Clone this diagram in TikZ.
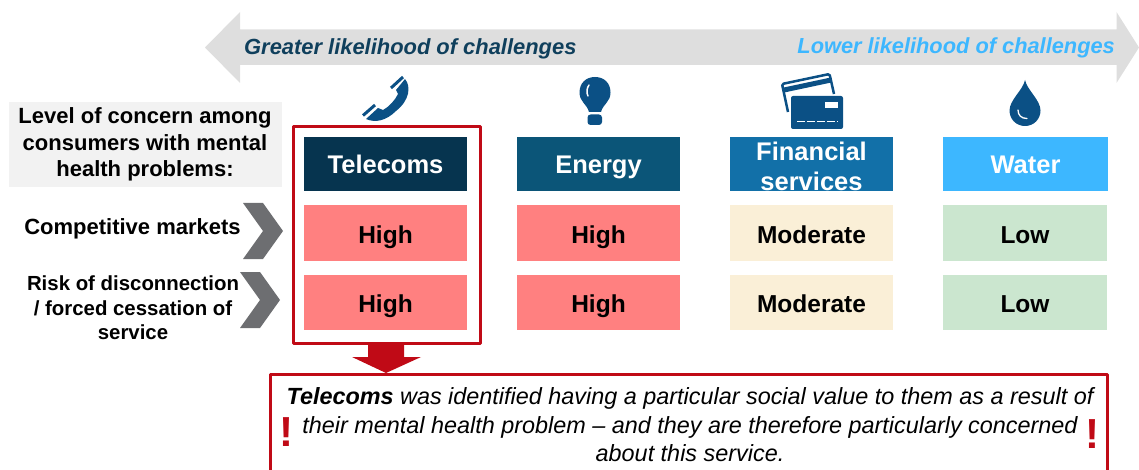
\documentclass[tikz,border=0pt]{standalone}
\usepackage{fontspec}
\setmainfont{Liberation Sans}
\definecolor{cTel}{HTML}{06344F}
\definecolor{cEne}{HTML}{0B5578}
\definecolor{cFin}{HTML}{1270A8}
\definecolor{cWat}{HTML}{3DB7FF}
\definecolor{cHigh}{HTML}{FF8080}
\definecolor{cMod}{HTML}{FAEFD7}
\definecolor{cLow}{HTML}{CBE6CF}
\definecolor{cRed}{HTML}{C00A16}
\definecolor{cBand}{HTML}{DEDEDE}
\definecolor{cChev}{HTML}{6D6E71}
\definecolor{cIcon}{HTML}{0B5085}
\definecolor{cGreat}{HTML}{0F3F5C}
\newcommand{\fs}[2]{\fontsize{#1}{#2}\selectfont}
\tikzset{
  x=1pt,y=-1pt,
  hdr/.style={minimum width=163pt,minimum height=54pt,inner sep=0pt,text=white,font=\bfseries\fs{25.5}{30},align=center},
  hdrone/.style={hdr,text height=25pt,text depth=5pt},
  cell/.style={minimum width=163pt,minimum height=55pt,inner sep=0pt,text=black,font=\bfseries\fs{24.5}{29},text height=26pt,text depth=5pt},
  lbl/.style={inner sep=0pt,align=center,text=black,font=\bfseries\fs{20.4}{24.5}},
  frameline/.style={draw=cRed,line width=3pt,line join=round},
  chev/.style={fill=cChev},
  ico/.style={fill=cIcon},
  icocut/.style={draw=white,line cap=round},
}
\begin{document}
\begin{tikzpicture}
\useasboundingbox (0,0) rectangle (1139,470);
% band arrow
\fill[cBand] (205,47.5) -- (240,12) -- (240,29.5) -- (1116.5,29.5) -- (1116.5,12) -- (1139,47.5) -- (1116.5,83) -- (1116.5,65) -- (240,65) -- (240,83) -- cycle;
\node[inner sep=0pt,anchor=west,text=cGreat,font=\bfseries\itshape\fs{21.9}{26}] (greater) at (244,48.5) {Greater likelihood of challenges};
\node[inner sep=0pt,anchor=east,text=cWat,font=\bfseries\itshape\fs{21.8}{26}] (lower) at (1115,47.5) {Lower likelihood of challenges};
% label box
\node[minimum width=273pt,minimum height=85pt,inner sep=0pt,fill=black!5] (levelbg) at (145.5,144.5) {};
\node[lbl,font=\bfseries\fs{22}{26.5}] (level) at (145,144.5) {Level of concern among\\consumers with mental\\health problems:};
% headers
\node[hdrone,fill=cTel] (telecoms) at (385.5,164) {Telecoms};
\node[hdrone,fill=cEne] (energy) at (598.5,164) {Energy};
\node[hdr,fill=cFin] (finbg) at (811.5,164) {};
\node[hdr,minimum height=0pt] (fin) at (811.5,166) {Financial\\services};
\node[hdrone,fill=cWat,minimum width=165pt] (water) at (1025.5,164) {Water};
% rows
\node[cell,fill=cHigh] (h11) at (385.5,233) {High};
\node[cell,fill=cHigh] (h12) at (598.5,233) {High};
\node[cell,fill=cMod] (m13) at (811.5,233) {Moderate};
\node[cell,fill=cLow,minimum width=164pt] (l14) at (1025,233) {Low};
\node[cell,fill=cHigh] (h21) at (385.5,302) {High};
\node[cell,fill=cHigh] (h22) at (598.5,302) {High};
\node[cell,fill=cMod] (m23) at (811.5,302) {Moderate};
\node[cell,fill=cLow,minimum width=164pt] (l24) at (1025,302) {Low};
% row labels
\node[lbl,font=\bfseries\fs{22}{24.5}] (comp) at (132.5,228.5) {Competitive markets};
\node[lbl] (risk) at (133,308) {Risk of disconnection\\/ forced cessation of\\service};
% chevrons
\fill[chev] (243,203) -- (263,203) -- (283,231) -- (263,259) -- (243,259) -- (263,231) -- cycle;
\fill[chev] (240,272) -- (260,272) -- (280,300) -- (260,328) -- (240,328) -- (260,300) -- cycle;
% red frame
\draw[frameline] (293.5,126.5) rectangle (480,343);
% red arrow
\fill[cRed] (368,344) -- (404,344) -- (404,357) -- (421,357) -- (386,373) -- (352,357) -- (368,357) -- cycle;
% bottom box
\draw[frameline] (270.5,480) -- (270.5,374.5) -- (1107.5,374.5) -- (1107.5,480);
\node[inner sep=0pt,align=center,text=black,font=\itshape\fs{23.4}{28.5}] (msg) at (690,425) {\textbf{Telecoms} was identified having a particular social value to them as a result of\\their mental health problem – and they are therefore particularly concerned\\about this service.};
\node[inner sep=0pt,text=cRed,font=\bfseries\fs{42}{42}] (exl) at (286,432) {!};
\node[inner sep=0pt,text=cRed,font=\bfseries\fs{42}{42}] (exr) at (1092,434.5) {!};
% phone icon
\draw[cIcon,line width=3pt] (391,88) -- (403,77);
\draw[cIcon,line width=3pt] (363,115.5) -- (375,105);
\fill[ico] (396,90) -- (405,79) .. controls (411,86) and (410,100) .. (396,111) .. controls (386,121) and (375,123) .. (366,119) -- (378,108) -- (383,110) .. controls (390,106) and (395,100) .. (398,94) -- cycle;
% bulb icon
\fill[ico] (589,112) .. controls (587,104) and (579.5,102) .. (579.5,92.5) .. controls (579.5,83) and (586,77) .. (595,77) .. controls (604,77) and (610.5,83) .. (610.5,92.5) .. controls (610.5,102) and (603,104) .. (601,112) -- cycle;
\fill[ico,rounded corners=3pt] (587.5,114.5) rectangle (602,125);
\draw[icocut,line width=1.5pt] (588,96) .. controls (586,92) and (587,88) .. (589,85);
% card icon
\draw[cIcon,line width=2.5pt,line join=round,rounded corners=1.5pt] (788,112) -- (782,84) -- (829.5,74) -- (834,94);
\draw[cIcon,line width=5pt] (784,90) -- (831,80);
\fill[ico,rounded corners=2pt] (791,96) rectangle (843,129);
\fill[white] (825,102) rectangle (838,108);
\draw[white,line width=1.3pt,dash pattern=on 8pt off 2pt] (797,121.5) -- (838,121.5);
% drop icon
\fill[ico] (1025,80) .. controls (1027,90) and (1040.5,100) .. (1040.5,110.5) .. controls (1040.5,119) and (1034,126) .. (1025,126) .. controls (1016,126) and (1009.5,119) .. (1009.5,110.5) .. controls (1009.5,100) and (1023,90) .. (1025,80) -- cycle;
\draw[icocut,line width=1.3pt] (1018,110) .. controls (1018,115) and (1021,118.5) .. (1027,118.5);
\end{tikzpicture}
\end{document}
